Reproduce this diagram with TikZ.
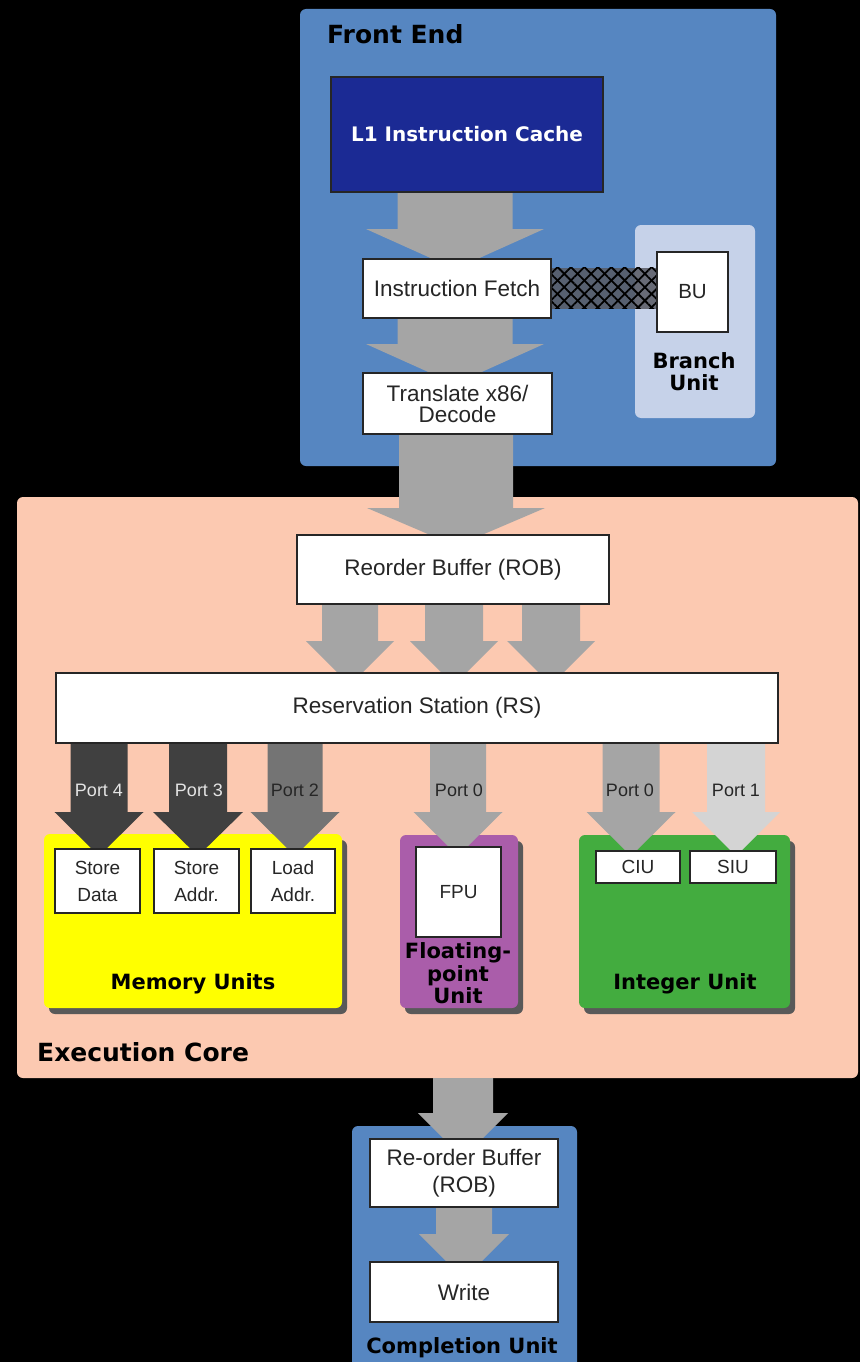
\documentclass[tikz,border=0pt]{standalone}
\usepackage{fontspec}
\setmainfont{Liberation Sans}
\newfontfamily\headfont{DejaVu Sans}
\usetikzlibrary{calc,patterns.meta,shadows}

\definecolor{feblue}{RGB}{86,134,193}
\definecolor{cachenavy}{RGB}{27,42,148}
\definecolor{branchbg}{RGB}{198,210,233}
\definecolor{corepeach}{RGB}{252,201,177}
\definecolor{memyellow}{RGB}{255,255,0}
\definecolor{fppurple}{RGB}{170,93,170}
\definecolor{intgreen}{RGB}{67,172,63}
\definecolor{flowgray}{RGB}{165,165,165}
\definecolor{portdark}{RGB}{64,64,64}
\definecolor{portmid}{RGB}{116,116,116}
\definecolor{portlight}{RGB}{212,212,212}
\definecolor{linkgray}{RGB}{88,90,98}
\definecolor{textgray}{RGB}{38,38,38}
\definecolor{labelpale}{RGB}{228,228,228}

\pgfdeclarelayer{back}
\pgfdeclarelayer{flow}
\pgfsetlayers{back,flow,main}

% wide flow arrow: fill, from anchor, to anchor, centre x, shaft half width,
% head half width, wing height above target, head length
\newcommand{\blockarrow}[8]{%
  \fill[#1] let \p1=(#2), \p2=(#3) in
    (#4pt-#5pt,\y1) -- (#4pt-#5pt,\y2+#7pt) -- (#4pt-#6pt,\y2+#7pt)
    -- (#4pt,\y2+#7pt-#8pt) -- (#4pt+#6pt,\y2+#7pt) -- (#4pt+#5pt,\y2+#7pt)
    -- (#4pt+#5pt,\y1) -- cycle;}

\tikzset{
  region/.style={rounded corners=6pt, inner sep=0pt, outer sep=0pt},
  unit/.style={region, drop shadow={shadow xshift=5pt, shadow yshift=-6pt, fill=black!65, opacity=1}},
  box/.style={draw=black!85, line width=2pt, fill=white, inner sep=0pt, align=center,
    text=textgray, font=\fontsize{22.5}{21}\selectfont},
  smallbox/.style={box, font=\fontsize{19}{27}\selectfont},
  heading/.style={inner sep=0pt, font=\headfont\bfseries\fontsize{25}{25}\selectfont},
  unitname/.style={inner sep=0pt, align=center, font=\headfont\bfseries\fontsize{21}{22.5}\selectfont},
  portname/.style={inner sep=0pt, font=\fontsize{18}{18}\selectfont, text=textgray},
  hatchlines/.style={pattern={Lines[angle=#1,distance=9.5pt,line width=1.8pt]}, pattern color=black},
}

\begin{document}
\begin{tikzpicture}[x=1pt,y=-1pt]
\useasboundingbox (0,0) rectangle (860,1362);

% regions
\begin{pgfonlayer}{back}
  \fill[black] (0,0) rectangle (860,1362);
  \node[region, fill=feblue, minimum width=476pt, minimum height=457pt] (frontend) at (538,237.5) {};
  \node[region, fill=corepeach, minimum width=841pt, minimum height=581pt] (core) at (437.5,787.5) {};
  \node[region, fill=feblue, minimum width=225pt, minimum height=274pt] (completion) at (464.5,1263) {};
  \node[region, fill=branchbg, minimum width=120pt, minimum height=193pt] (branch) at (695,321.5) {};
  \node[unit, fill=memyellow, minimum width=298pt, minimum height=174pt] (memory) at (193,921) {};
  \node[unit, fill=fppurple, minimum width=118pt, minimum height=173pt] (fpunit) at (459,921.5) {};
  \node[unit, fill=intgreen, minimum width=211pt, minimum height=173pt] (intunit) at (684.5,921.5) {};
\end{pgfonlayer}

% functional blocks
\node[box, fill=cachenavy, text=white, font=\headfont\bfseries\fontsize{20}{20}\selectfont,
  minimum width=272pt, minimum height=115pt] (cache) at (467,134.5) {L1 Instruction Cache};
\node[box, minimum width=188pt, minimum height=59pt] (fetch) at (457,288.5) {Instruction Fetch};
\node[box, minimum width=189pt, minimum height=61pt] (decode) at (457.5,403.5) {Translate x86/\\Decode};
\node[box, font=\fontsize{20.5}{20}\selectfont, minimum width=71pt, minimum height=80pt] (bu) at (692.5,292) {BU};
\node[box, minimum width=312pt, minimum height=69pt] (rob) at (453,569.5) {Reorder Buffer (ROB)};
\node[box, minimum width=722pt, minimum height=70pt] (rs) at (417,708) {Reservation Station (RS)};
\node[smallbox, minimum width=85pt, minimum height=64pt] (sdata) at (97.5,881) {Store\\Data};
\node[smallbox, minimum width=85pt, minimum height=64pt] (saddr) at (196.5,881) {Store\\Addr.};
\node[smallbox, minimum width=84pt, minimum height=64pt] (laddr) at (293,881) {Load\\Addr.};
\node[smallbox, minimum width=85pt, minimum height=90pt] (fpu) at (458.5,892) {FPU};
\node[smallbox, minimum width=84pt, minimum height=32pt] (ciu) at (638,867) {CIU};
\node[smallbox, minimum width=86pt, minimum height=32pt] (siu) at (733,867) {SIU};
\node[box, font=\fontsize{22.5}{27}\selectfont, minimum width=188pt, minimum height=68pt] (rob2) at (464,1173) {Re-order Buffer\\(ROB)};
\node[box, minimum width=188pt, minimum height=60pt] (write) at (464,1292) {Write};

% cross-hatched link between fetch and the branch unit
\begin{pgfonlayer}{back}
  \fill[linkgray, opacity=.85] ($(fetch.east)+(0,-21)$) rectangle ($(fetch.east -| bu.west)+(0,20)$);
  \fill[hatchlines=45] ($(fetch.east)+(0,-21)$) rectangle ($(fetch.east -| bu.west)+(0,20)$);
  \fill[hatchlines=-45] ($(fetch.east)+(0,-21)$) rectangle ($(fetch.east -| bu.west)+(0,20)$);
\end{pgfonlayer}

% data flow
\begin{pgfonlayer}{flow}
  \blockarrow{flowgray}{cache.south}{fetch.north}{455}{57.5}{89}{29}{40}
  \blockarrow{flowgray}{fetch.south}{decode.north}{455}{57.5}{89}{28}{40}
  \blockarrow{flowgray}{decode.south}{rob.north}{456}{57}{89}{26}{38}
  \blockarrow{flowgray}{rob.south}{rs.north}{350}{28}{44}{31}{44}
  \blockarrow{flowgray}{rob.south}{rs.north}{454}{29}{44}{31}{44}
  \blockarrow{flowgray}{rob.south}{rs.north}{551}{29}{44}{31}{44}
  \blockarrow{portdark}{rs.south}{sdata.north}{99}{28.5}{44.5}{36}{44}
  \blockarrow{portdark}{rs.south}{saddr.north}{198}{29}{45}{36}{44}
  \blockarrow{portmid}{rs.south}{laddr.north}{295}{27.5}{44.5}{36}{44}
  \blockarrow{flowgray}{rs.south}{fpu.north}{458}{28}{44.5}{34}{44}
  \blockarrow{flowgray}{rs.south}{ciu.north}{631}{28.5}{44.5}{38}{44}
  \blockarrow{portlight}{rs.south}{siu.north}{736}{29}{44}{38}{44}
  \blockarrow{flowgray}{core.south}{rob2.north}{463}{30}{45}{25}{45}
  \blockarrow{flowgray}{rob2.south}{write.north}{464}{28}{45}{27}{45}
\end{pgfonlayer}

% port labels
\node[portname, text=labelpale] (p4) at (99,790) {Port 4};
\node[portname, text=labelpale] (p3) at (199,790) {Port 3};
\node[portname] (p2) at (295,790) {Port 2};
\node[portname] (p0f) at (459,790) {Port 0};
\node[portname] (p0i) at (630,790) {Port 0};
\node[portname] (p1) at (736,790) {Port 1};

% region titles
\node[heading, anchor=base west] (fetitle) at (327,44) {Front End};
\node[heading, anchor=base west] (coretitle) at (37,1061) {Execution Core};
\node[unitname, anchor=base] (memname) at (193,989) {Memory Units};
\node[unitname, anchor=base] (intname) at (685,989) {Integer Unit};
\node[unitname] (fpname) at (458,973.5) {Floating-\\point\\Unit};
\node[unitname] (brname) at (694,371.5) {Branch\\Unit};
\node[unitname, anchor=base] (compname) at (462,1353) {Completion Unit};
\end{tikzpicture}
\end{document}
